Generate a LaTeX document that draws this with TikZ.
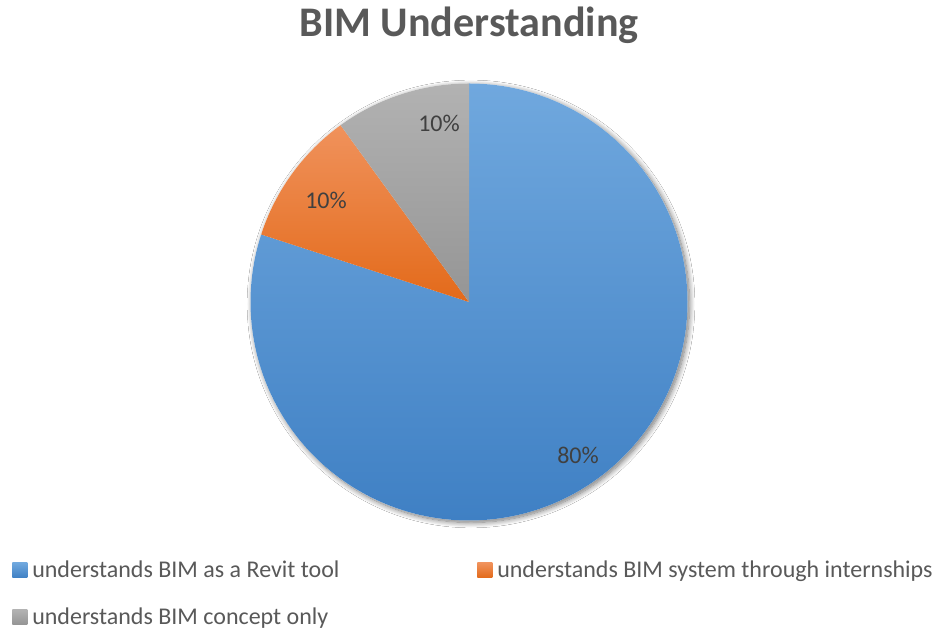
\documentclass[tikz,border=0pt]{standalone}
\usepackage{fontspec}
\setmainfont{Carlito}
\usetikzlibrary{shadows.blur}
\definecolor{titlegray}{HTML}{595959}
\definecolor{labelgray}{HTML}{404040}
\definecolor{blueTop}{HTML}{70A8DE}
\definecolor{blueBot}{HTML}{3F80C4}
\definecolor{orangeTop}{HTML}{F0925C}
\definecolor{orangeBot}{HTML}{E36A1A}
\definecolor{grayTop}{HTML}{B2B2B2}
\definecolor{grayBot}{HTML}{959595}
\tikzset{
  pctlabel/.style={text=labelgray, font=\fontsize{18}{20}\selectfont, inner sep=0pt},
  legendtext/.style={text=titlegray, font=\fontsize{18}{20}\selectfont, anchor=base west, inner sep=0pt},
  legendkey/.style={minimum size=11.25pt, inner sep=0pt, anchor=south west},
}
\begin{document}
\begin{tikzpicture}[x=0.75pt, y=0.75pt]
  % canvas: 936 x 630 units
  \useasboundingbox (0,0) rectangle (936,630);
  \fill[white] (0,0) rectangle (936,630);

  % chart title
  \node[text=titlegray, font=\bfseries\fontsize{31.6}{34}\selectfont, anchor=base, inner sep=0pt]
    (title) at (469,593) {BIM Understanding};

  % pie centre and radius
  \coordinate (c) at (469,328);
  \def\r{218.5}

  % soft shadow under the pie
  \fill[white, blur shadow={shadow xshift=1.5pt, shadow yshift=-1.5pt,
        shadow blur radius=4pt, shadow blur steps=10, shadow opacity=55}]
    (c) circle[radius=\r];

  % slices, clockwise from 12 o'clock
  \shade[top color=blueTop, bottom color=blueBot]
    (c) -- ++(90:\r) arc[start angle=90, end angle=-198, radius=\r] -- cycle;
  \shade[top color=orangeTop, bottom color=orangeBot]
    (c) -- ++(162:\r) arc[start angle=162, end angle=126, radius=\r] -- cycle;
  \shade[top color=grayTop, bottom color=grayBot]
    (c) -- ++(126:\r) arc[start angle=126, end angle=90, radius=\r] -- cycle;

  % slice labels
  \node[pctlabel] (lblA) at (578,175) {80\%};
  \node[pctlabel] (lblB) at (326,430) {10\%};
  \node[pctlabel] (lblC) at (439,507) {10\%};

  % legend
  \node[legendkey, top color=blueTop, bottom color=blueBot] (keyA) at (12,52) {};
  \node[legendtext] (legA) at (32,52) {understands BIM as a Revit tool};
  \node[legendkey, top color=orangeTop, bottom color=orangeBot] (keyB) at (477,52) {};
  \node[legendtext] (legB) at (497,52) {understands BIM system through internships};
  \node[legendkey, top color=grayTop, bottom color=grayBot] (keyC) at (12,5) {};
  \node[legendtext] (legC) at (32,5) {understands BIM concept only};
\end{tikzpicture}
\end{document}
